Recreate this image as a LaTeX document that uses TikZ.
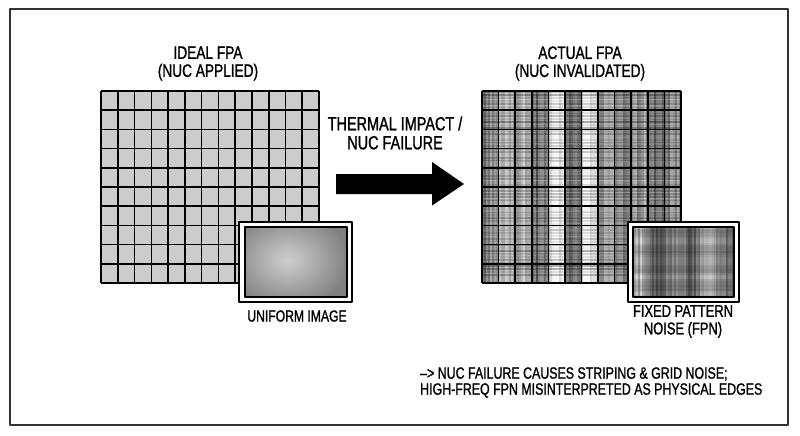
\documentclass[tikz,border=0pt]{standalone}
\usepackage{fontspec}
\setmainfont{Liberation Sans}[FakeStretch=0.76,FakeBold=1.2]
\begin{document}
\begin{tikzpicture}[x=1pt,y=-1pt,line join=round,font=\fontsize{18}{18}\selectfont,
  lbl/.style={align=center,inner sep=0pt},
  cellline/.style={line width=1.6pt,black},
  inset/.style={line width=1.6pt,draw=black,fill=white}]
\useasboundingbox (0,0) rectangle (800,436);
\draw[line width=2pt,black!80] (10,9) rectangle (788,425);

% ideal FPA
\node[lbl] (idealtitle) at (208,63.5) {IDEAL FPA\\(NUC APPLIED)};
\fill[black!20] (101,91) rectangle (319,283);
\foreach \i in {0,...,13}
  \draw[cellline] (101+\i*16.77,91) -- ++(0,192);
\foreach \j in {0,...,10}
  \draw[cellline] (101,91+\j*19.2) -- ++(218,0);
\draw[inset] (239,222) rectangle (352,302);
\begin{scope}
\clip (245,227) rectangle (347,297);
\shade[inner color=black!19,outer color=black!50] (225,210) rectangle (350,310);
\end{scope}
\draw[cellline] (245,227) rectangle (347,297);
\node[lbl,font=\fontsize{16}{17}\selectfont] (uniform) at (297,316) {UNIFORM IMAGE};

% arrow
\node[lbl,font=\fontsize{19}{19}\selectfont] (thermal) at (395,133) {THERMAL IMPACT /\\NUC FAILURE};
\coordinate (tail) at (336,184);
\coordinate (tip) at (464,184);
\fill[black] (tail) ++(0,-10) -- ++(96,0) -- ++(0,-12) -- (tip)
  -- ++(-32,21.5) -- ++(0,-11.5) -- ++(-96,0) -- cycle;

% actual FPA
\node[lbl] (actualtitle) at (580,63.5) {ACTUAL FPA\\(NUC INVALIDATED)};
\pgfmathsetseed{11}
\begin{scope}
\clip (482,91) rectangle (681,283);
\foreach \b [count=\c from 0] in {48,30,28,55,14,60,10,38,48,42,58,48}
  \foreach \k in {0,...,7} {
    \pgfmathtruncatemacro\g{max(3,min(90,\b+rnd*32-16))}
    \draw[black!\g,line width=2.3pt] ({482+\c*16.58+(\k+0.5)*2.07},91) -- ++(0,192);
  }
\foreach \j in {0,...,63} {
  \pgfmathsetmacro\o{(rnd*0.3)*(0.6+0.6*abs(cos(\j*2.9)))}
  \draw[black,opacity=\o,line width=1.6pt] (482,{92+\j*3}) -- ++(199,0);
}
\foreach \j in {0,...,30} {
  \pgfmathsetmacro\o{rnd*0.25}
  \draw[white,opacity=\o,line width=1.2pt] (482,{93.5+\j*6.2}) -- ++(199,0);
}
\end{scope}
\foreach \i in {0,...,12}
  \draw[cellline] (482+\i*16.58,91) -- ++(0,192);
\foreach \j in {0,...,10}
  \draw[cellline] (482,91+\j*19.2) -- ++(199,0);

% fpn inset
\draw[inset] (628,222) rectangle (739,302);
\begin{scope}
\clip (633,227) rectangle (734,297);
\foreach \k in {0,...,50} {
  \pgfmathtruncatemacro\g{max(5,min(85,45-14*sin(\k*21)-8*cos(\k*9)+rnd*26-13))}
  \draw[black!\g,line width=2.1pt] ({633+\k*2},227) -- ++(0,70);
}
\foreach \j in {0,...,35} {
  \pgfmathsetmacro\o{max(0,0.08+0.1*sin(\j*40)+rnd*0.12)}
  \draw[black,opacity=\o,line width=2pt] (633,{228+\j*2}) -- ++(101,0);
}
\end{scope}
\draw[cellline] (633,227) rectangle (734,297);
\node[lbl,font=\fontsize{17}{17.5}\selectfont] (fpn) at (683,321.5) {FIXED PATTERN\\NOISE (FPN)};

% note
\node[lbl,align=left,anchor=west,font=\fontsize{16.3}{16}\selectfont] (note) at (420,382.5)
  {-->\ NUC FAILURE CAUSES STRIPING \& GRID NOISE;\\HIGH-FREQ FPN MISINTERPRETED AS PHYSICAL EDGES};
\end{tikzpicture}
\end{document}
